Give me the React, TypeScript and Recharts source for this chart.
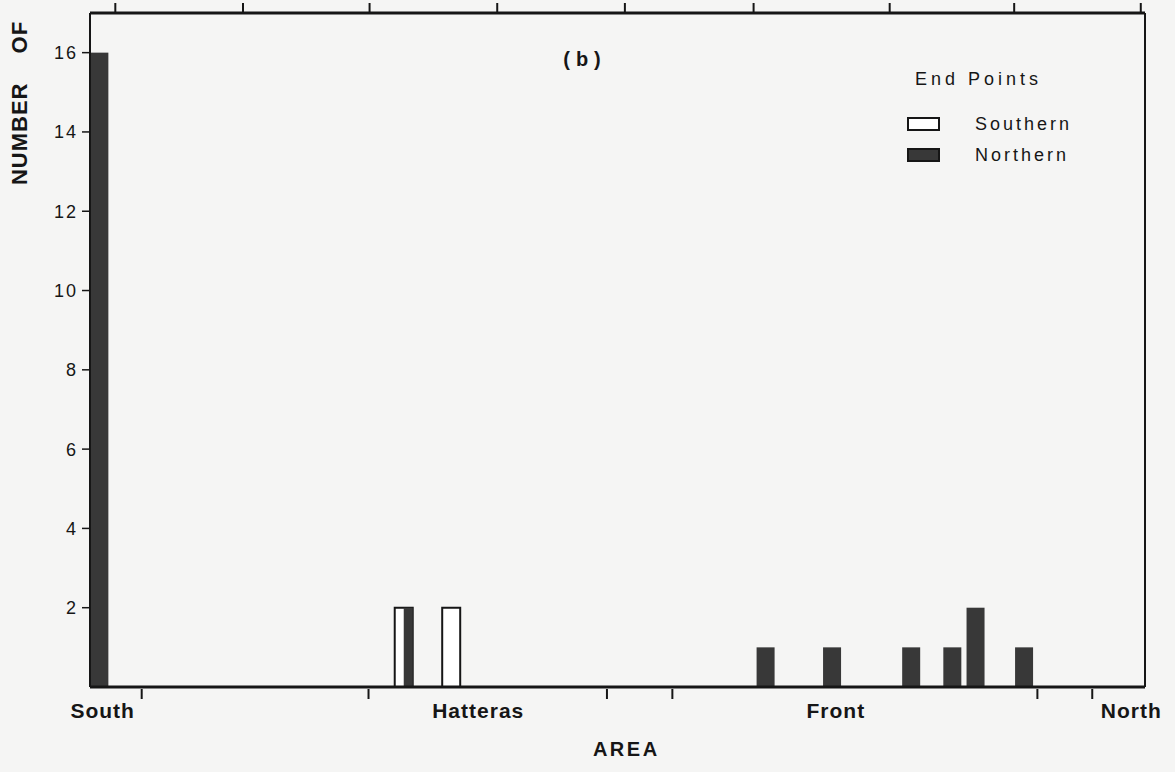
import React from 'react';
import { BarChart, Bar, XAxis, YAxis, Legend } from 'recharts';

const FONT = '"Liberation Sans", Arial, sans-serif';
const INK = '#161616';

// position of each bar along the track, 0 = South edge of the frame, 100 = North edge
const barPositions = [0.85, 29.7, 34.2, 64.0, 70.3, 77.8, 81.7, 83.9, 88.5];
const southernCounts = [0, 2, 2, 0, 0, 0, 0, 0, 0];
const northernCounts = [16, 2, 0, 1, 1, 1, 1, 2, 1];

// tick marks and names along the AREA axis
const areaTickMarks = [4.9, 26.4, 49.0, 55.2, 89.8, 95.0];
const areaNames = ['South', 'Hatteras', 'Front', 'North'];
const areaNamePositions = [1.2, 36.8, 70.7, 98.7];
const topTickMarks = [2.4, 14.5, 26.5, 38.6, 50.7, 62.9, 75.8, 87.6, 99.6];
const countTicks = [2, 4, 6, 8, 10, 12, 14, 16];
const legendOrder = ['Southern', 'Northern'];

const data = barPositions.map((pos, i) => ({
  pos,
  southern: southernCounts[i],
  northern: northernCounts[i],
}));

// northern bar shares its slot with a southern one -> only fill the right half
const NorthernShape = (props: any) => {
  const { x, y, width, height, payload, fill } = props;
  if (!height || height <= 0) return null;
  const shared = payload && payload.southern > 0;
  const left = shared ? x + width / 2 : x;
  const w = shared ? width / 2 : width;
  return <rect x={left} y={y} width={w} height={height} fill={fill} />;
};

const AreaTick = (props: any) => {
  const { x, y, payload } = props;
  const idx = areaNamePositions.indexOf(payload.value);
  if (idx >= 0) {
    return (
      <text
        x={x}
        y={y + 31}
        textAnchor="middle"
        fontFamily={FONT}
        fontWeight="bold"
        fontSize={21}
        letterSpacing={1}
        fill={INK}
      >
        {areaNames[idx]}
      </text>
    );
  }
  return <line x1={x} x2={x} y1={y + 2} y2={y + 12} stroke={INK} strokeWidth={2} />;
};

const TopTick = (props: any) => {
  const { x, y } = props;
  return <line x1={x} x2={x} y1={y - 10} y2={y - 1} stroke={INK} strokeWidth={2} />;
};

const EndPointsLegend = ({ payload }: any) => {
  const items = [...(payload || [])].sort(
    (a: any, b: any) => legendOrder.indexOf(a.value) - legendOrder.indexOf(b.value)
  );
  return (
    <div style={{ position: 'relative', width: 200, height: 110, fontFamily: FONT, color: INK }}>
      <div style={{ position: 'absolute', left: 10, top: 0, fontSize: 18, letterSpacing: 4, lineHeight: '34px', whiteSpace: 'nowrap' }}>
        End Points
      </div>
      {items.map((entry: any, i: number) => (
        <div
          key={entry.value}
          style={{ position: 'absolute', left: 2, top: 47 + i * 31, height: 30, display: 'flex', alignItems: 'center', whiteSpace: 'nowrap' }}
        >
          <span style={{ width: 29, height: 10, border: `2px solid ${INK}`, background: entry.color, display: 'inline-block' }} />
          <span style={{ marginLeft: 35, fontSize: 18, letterSpacing: 3 }}>{entry.value}</span>
        </div>
      ))}
    </div>
  );
};

const App: React.FC = () => {
  return (
    <div style={{ position: 'relative', width: 1175, height: 772, background: '#f5f5f4', overflow: 'hidden' }}>
      <style>{'body{margin:0;background:#f5f5f4}'}</style>
      <BarChart width={1175} height={772} data={data} margin={{ top: 12, right: 29, left: 30, bottom: 45 }}>
        <XAxis
          xAxisId="main"
          dataKey="pos"
          type="number"
          domain={[0, 100]}
          allowDataOverflow
          ticks={[...areaTickMarks, ...areaNamePositions]}
          interval={0}
          tick={(p: any) => <AreaTick {...p} />}
          tickLine={false}
          tickSize={0}
          tickMargin={0}
          height={40}
          axisLine={{ stroke: INK, strokeWidth: 3 }}
        />
        <XAxis xAxisId="north" dataKey="pos" type="number" domain={[0, 100]} allowDataOverflow hide />
        <XAxis
          xAxisId="top"
          orientation="top"
          dataKey="pos"
          type="number"
          domain={[0, 100]}
          allowDataOverflow
          ticks={topTickMarks}
          interval={0}
          tick={(p: any) => <TopTick {...p} />}
          tickLine={false}
          tickSize={0}
          tickMargin={0}
          height={1}
          axisLine={{ stroke: INK, strokeWidth: 3 }}
        />
        <YAxis
          yAxisId="left"
          type="number"
          domain={[0, 17]}
          allowDataOverflow
          ticks={countTicks}
          interval={0}
          width={60}
          tickSize={8}
          tickMargin={4}
          tick={{ fill: INK, fontSize: 18, fontFamily: FONT, letterSpacing: 2 }}
          tickLine={{ stroke: INK, strokeWidth: 1.5 }}
          axisLine={{ stroke: INK, strokeWidth: 2 }}
        />
        <YAxis
          yAxisId="right"
          orientation="right"
          type="number"
          domain={[0, 17]}
          allowDataOverflow
          width={1}
          tick={false}
          tickLine={false}
          axisLine={{ stroke: INK, strokeWidth: 2 }}
        />
        <Legend
          layout="vertical"
          align="center"
          verticalAlign="middle"
          content={<EndPointsLegend />}
          wrapperStyle={{ left: 905, top: 62, width: 200 }}
        />
        <Bar
          xAxisId="main"
          yAxisId="left"
          dataKey="southern"
          name="Southern"
          fill="#ffffff"
          stroke={INK}
          strokeWidth={2}
          barSize={18}
          isAnimationActive={false}
        />
        <Bar
          xAxisId="north"
          yAxisId="left"
          dataKey="northern"
          name="Northern"
          fill="#383838"
          barSize={18}
          shape={(p: any) => <NorthernShape {...p} />}
          isAnimationActive={false}
        />
      </BarChart>

      <div style={{ position: 'absolute', left: 542, top: 47, width: 80, textAlign: 'center', lineHeight: '24px', fontFamily: FONT, fontWeight: 'bold', fontSize: 20, letterSpacing: 6, paddingLeft: 6, boxSizing: 'border-box', color: INK }}>
        (b)
      </div>
      <div style={{ position: 'absolute', left: 565, top: 737, width: 120, textAlign: 'center', lineHeight: '24px', fontFamily: FONT, fontWeight: 'bold', fontSize: 20, letterSpacing: 2.5, paddingLeft: 2.5, boxSizing: 'border-box', color: INK }}>
        AREA
      </div>
      <div style={{ position: 'absolute', left: 20 - 100, top: 103 - 13, width: 200, height: 26, lineHeight: '26px', textAlign: 'center', transform: 'rotate(-90deg)', fontFamily: FONT, fontWeight: 'bold', fontSize: 22, letterSpacing: 1, wordSpacing: 22, color: INK, whiteSpace: 'nowrap' }}>
        NUMBER OF
      </div>
    </div>
  );
};

export default App;
